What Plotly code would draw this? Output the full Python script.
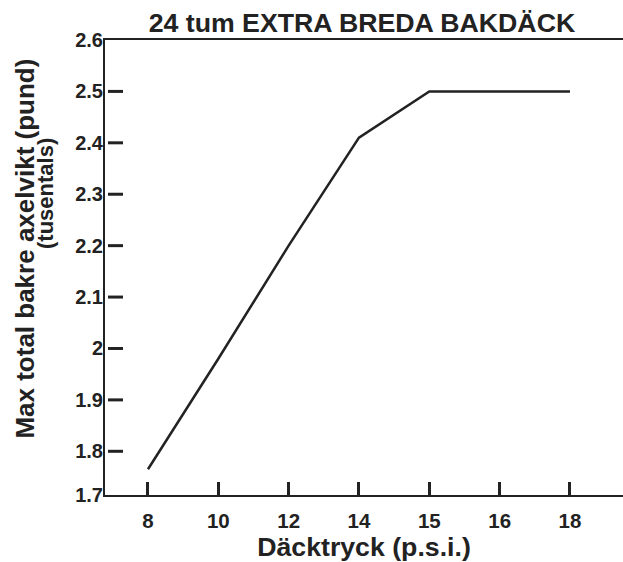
import plotly.graph_objects as go

# Tyre pressure (p.s.i.) categories and max rear axle load (thousands of pounds)
pressure = ["8", "10", "12", "14", "15", "16", "18"]
max_load = [1.765, 1.98, 2.2, 2.41, 2.5, 2.5, 2.5]

y_tick_vals = [1.715, 1.8, 1.9, 2.0, 2.1, 2.2, 2.3, 2.4, 2.5, 2.6]
y_tick_text = ["1.7", "1.8", "1.9", "2", "2.1", "2.2", "2.3", "2.4", "2.5", "2.6"]
y_mark_vals = [1.8, 1.9, 2.0, 2.1, 2.2, 2.3, 2.4, 2.5]

title_text = "24 tum EXTRA BREDA BAKDÄCK"
x_title = "Däcktryck (p.s.i.)"
y_title = "Max total bakre axelvikt (pund)"
y_subtitle = "(tusentals)"

INK = "#222222"
FONT = "Liberation Sans, Arial, Helvetica, sans-serif"

PLOT_W = 518
PLOT_H = 458

idx = list(range(len(pressure)))

fig = go.Figure(
    go.Scatter(
        x=idx,
        y=max_load,
        mode="lines",
        line=dict(color=INK, width=2.5),
        hoverinfo="skip",
    )
)

fig.update_layout(
    width=623,
    height=562,
    margin=dict(l=105, r=0, t=40, b=64),
    paper_bgcolor="white",
    plot_bgcolor="white",
    showlegend=False,
    font=dict(family=FONT, color=INK, size=20, weight="bold"),
    title=dict(
        text=title_text,
        font=dict(family=FONT, size=26.7, color=INK, weight="bold"),
        x=0.496,
        xref="paper",
        xanchor="center",
        y=1 - 23 / 562,
        yref="container",
        yanchor="middle",
    ),
    xaxis=dict(
        range=[-0.611, 6.754],
        tickmode="array",
        tickvals=idx,
        ticktext=pressure,
        ticks="inside",
        ticklen=13,
        tickwidth=3,
        tickcolor=INK,
        showline=True,
        linecolor=INK,
        linewidth=2,
        mirror=True,
        showgrid=False,
        zeroline=False,
        tickfont=dict(size=20.5, weight="bold"),
        ticklabelstandoff=6,
        title=dict(text=x_title, font=dict(size=26.7, weight="bold"), standoff=12),
    ),
    yaxis=dict(
        range=[1.715, 2.6],
        tickmode="array",
        tickvals=y_tick_vals,
        ticktext=y_tick_text,
        ticks="",
        showline=True,
        linecolor=INK,
        linewidth=2,
        showgrid=False,
        zeroline=False,
        tickfont=dict(size=20, weight="bold"),
        ticklabelstandoff=-4,
    ),
)

# Short inward tick marks on the y axis at each interior value
for v in y_mark_vals:
    fig.add_shape(
        type="line",
        xref="paper", yref="y",
        x0=3 / PLOT_W, x1=18 / PLOT_W,
        y0=v, y1=v,
        line=dict(color=INK, width=3),
    )

# Two-line rotated y-axis caption, each line placed independently
fig.add_annotation(
    text=y_title,
    xref="paper", yref="paper",
    x=(25 - 105) / PLOT_W, y=(498 - 250) / PLOT_H,
    xanchor="center", yanchor="middle",
    textangle=-90, showarrow=False,
    font=dict(family=FONT, size=26, color=INK, weight="bold"),
)
fig.add_annotation(
    text=y_subtitle,
    xref="paper", yref="paper",
    x=(46 - 105) / PLOT_W, y=(498 - 195) / PLOT_H,
    xanchor="center", yanchor="middle",
    textangle=-90, showarrow=False,
    font=dict(family=FONT, size=22, color=INK, weight="bold"),
)

fig.write_html("out.html")
